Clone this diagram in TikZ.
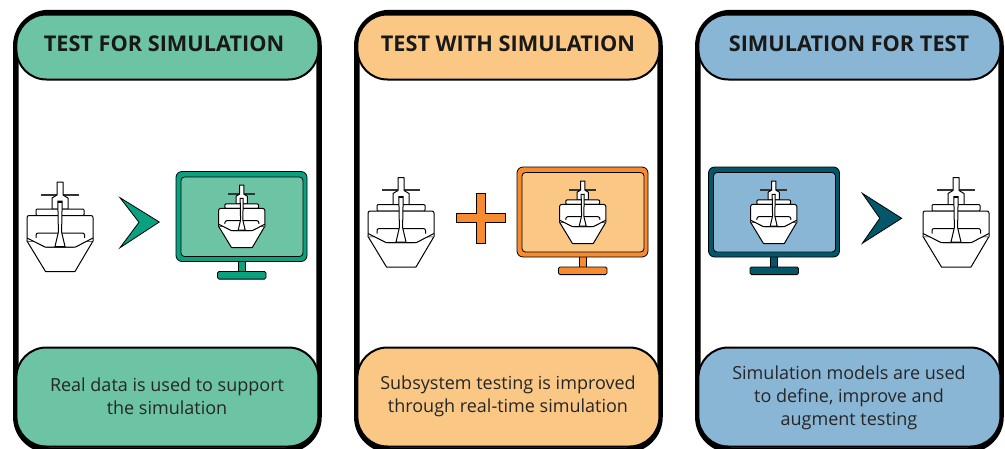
\documentclass[tikz,border=0pt]{standalone}
\usepackage{fontspec}
\setmainfont{Open Sans}
\definecolor{grn}{HTML}{6CC4A4}
\definecolor{grnd}{HTML}{0BA07F}
\definecolor{org}{HTML}{FAC785}
\definecolor{orgd}{HTML}{F88A30}
\definecolor{blu}{HTML}{8AB6D6}
\definecolor{blud}{HTML}{04566A}
\tikzset{
 x=1pt,y=-1pt,
 panel/.style={draw=black,line width=5.5pt,rounded corners=33pt,fill=white},
 capbox/.style={draw=black,line width=2pt,rounded corners=30pt,minimum width=302pt,minimum height=65pt,inner sep=0pt},
 footbox/.style={draw=black,line width=2pt,rounded corners=30pt,minimum width=302pt,minimum height=99pt,inner sep=0pt},
 headtext/.style={font=\fontsize{21.7}{25}\selectfont\bfseries,text=black!90},
 foottext/.style={font=\fontsize{18}{23}\selectfont,align=center,text=black!85,inner sep=0pt},
 shipline/.style={draw=black,line width=1pt,fill=white,line join=round},
 arrowshape/.style={draw=black,line width=.8pt},
}
\newcommand{\shipdraw}[3]{%
 \begin{scope}[shift={(#1,#2)},x=#3pt,y=-#3pt]
  \draw[draw=black!80,line width=1.8pt] (-19,12.7) -- (19,12.7);
  \draw[shipline] (-8,16) -- (-3,13) -- (-3,0) -- (3,0) -- (3,13) -- (8,16) -- (8,27) -- (-8,27) -- cycle;
  \draw[shipline,rounded corners=1pt] (-24,33.5) -- (-24,27) -- (24,27) -- (24,33.5) -- cycle;
  \draw[shipline] (-33,59) -- (-14.5,89.5) -- (15,89.5) -- (33,59) -- cycle;
  \draw[shipline,rounded corners=2pt] (-33,59) -- (-33,33.5) -- (33,33.5) -- (33,59);
  \draw[shipline,rounded corners=2pt] (-24,60) -- (-24,51) -- (24.5,51) -- (24.5,60) -- (15,65) -- (-15,65) -- cycle;
  \draw[shipline] (-33,56) -- (-15,65) -- (15.5,65) -- (33,56);
  \draw[draw=black,line width=1pt,fill=white] (-2.2,19) -- (2.2,19) -- (1.6,50) -- (5,64.5) -- (-5,64.5) -- (-1.6,50) -- cycle;
  \fill[black] (-2,19) rectangle (2,20.5);
 \end{scope}}
\newcommand{\monitor}[4]{%
 \begin{scope}[shift={(#1,#2)}]
  \draw[draw=black,line width=.8pt,fill=#4] (62,88) rectangle (69,101);
  \draw[draw=black,line width=.8pt,fill=#4,rounded corners=1.5pt] (41.5,100) rectangle (90,107.6);
  \draw[draw=black,line width=.8pt,fill=#4,rounded corners=6pt] (0,0) rectangle (131,90);
  \draw[draw=black,line width=.8pt,fill=#3,rounded corners=3.5pt] (5,5.5) rectangle (127,85);
 \end{scope}}
\begin{document}
\begin{tikzpicture}
\useasboundingbox (0,0) rectangle (1005,448);
\begin{scope}
\clip (0,0) rectangle (1005,448);
\draw[panel] (15.8,12.5) rectangle (319,450);
\draw[panel] (356.8,12.5) rectangle (660,450);
\draw[panel] (697.8,12.5) rectangle (1001,450);
\end{scope}
\node[capbox,fill=grn] (h1) at (167.4,47) {};
\node[capbox,fill=org] (h2) at (508.4,47) {};
\node[capbox,fill=blu] (h3) at (849.4,47) {};
\node[headtext] (t1) at (164,43.5) {TEST FOR SIMULATION};
\node[headtext] (t2) at (508,43.5) {TEST WITH SIMULATION};
\node[headtext] (t3) at (849,43.5) {SIMULATION FOR TEST};
\node[footbox,fill=grn] (f1) at (167.4,397) {};
\node[footbox,fill=org] (f2) at (508.4,397) {};
\node[footbox,fill=blu] (f3) at (849.4,397) {};
\node[foottext] (b1) at (167,396) {Real data is used to support\\the simulation};
\node[foottext] (b2) at (508,396) {Subsystem testing is improved\\through real-time simulation};
\node[foottext] (b3) at (849,398) {Simulation models are used\\to define, improve and\\augment testing};
\shipdraw{60}{182}{1}
\draw[arrowshape,fill=grnd] (120,197.7) -- (159.3,222) -- (120,247.7) -- (139,222.3) -- cycle;
\monitor{176}{171.5}{grn}{grnd}
\shipdraw{241.7}{185}{.70}
\shipdraw{401}{177.5}{1}
\draw[arrowshape,fill=orgd] (456,213.3) -- (476,213.3) -- (476,193.3) -- (485.3,193.3) -- (485.3,213.3) -- (505.7,213.3) -- (505.7,222.7) -- (485.3,222.7) -- (485.3,243.3) -- (476,243.3) -- (476,222.7) -- (456,222.7) -- cycle;
\monitor{517}{167}{org}{orgd}
\shipdraw{582.7}{181}{.70}
\monitor{708.5}{167}{blu}{blud}
\shipdraw{773.7}{181}{.70}
\draw[arrowshape,fill=blud] (862.3,193.3) -- (901.7,218.3) -- (862.3,243.3) -- (879.8,218.3) -- cycle;
\shipdraw{956}{177.5}{1}
\end{tikzpicture}
\end{document}
